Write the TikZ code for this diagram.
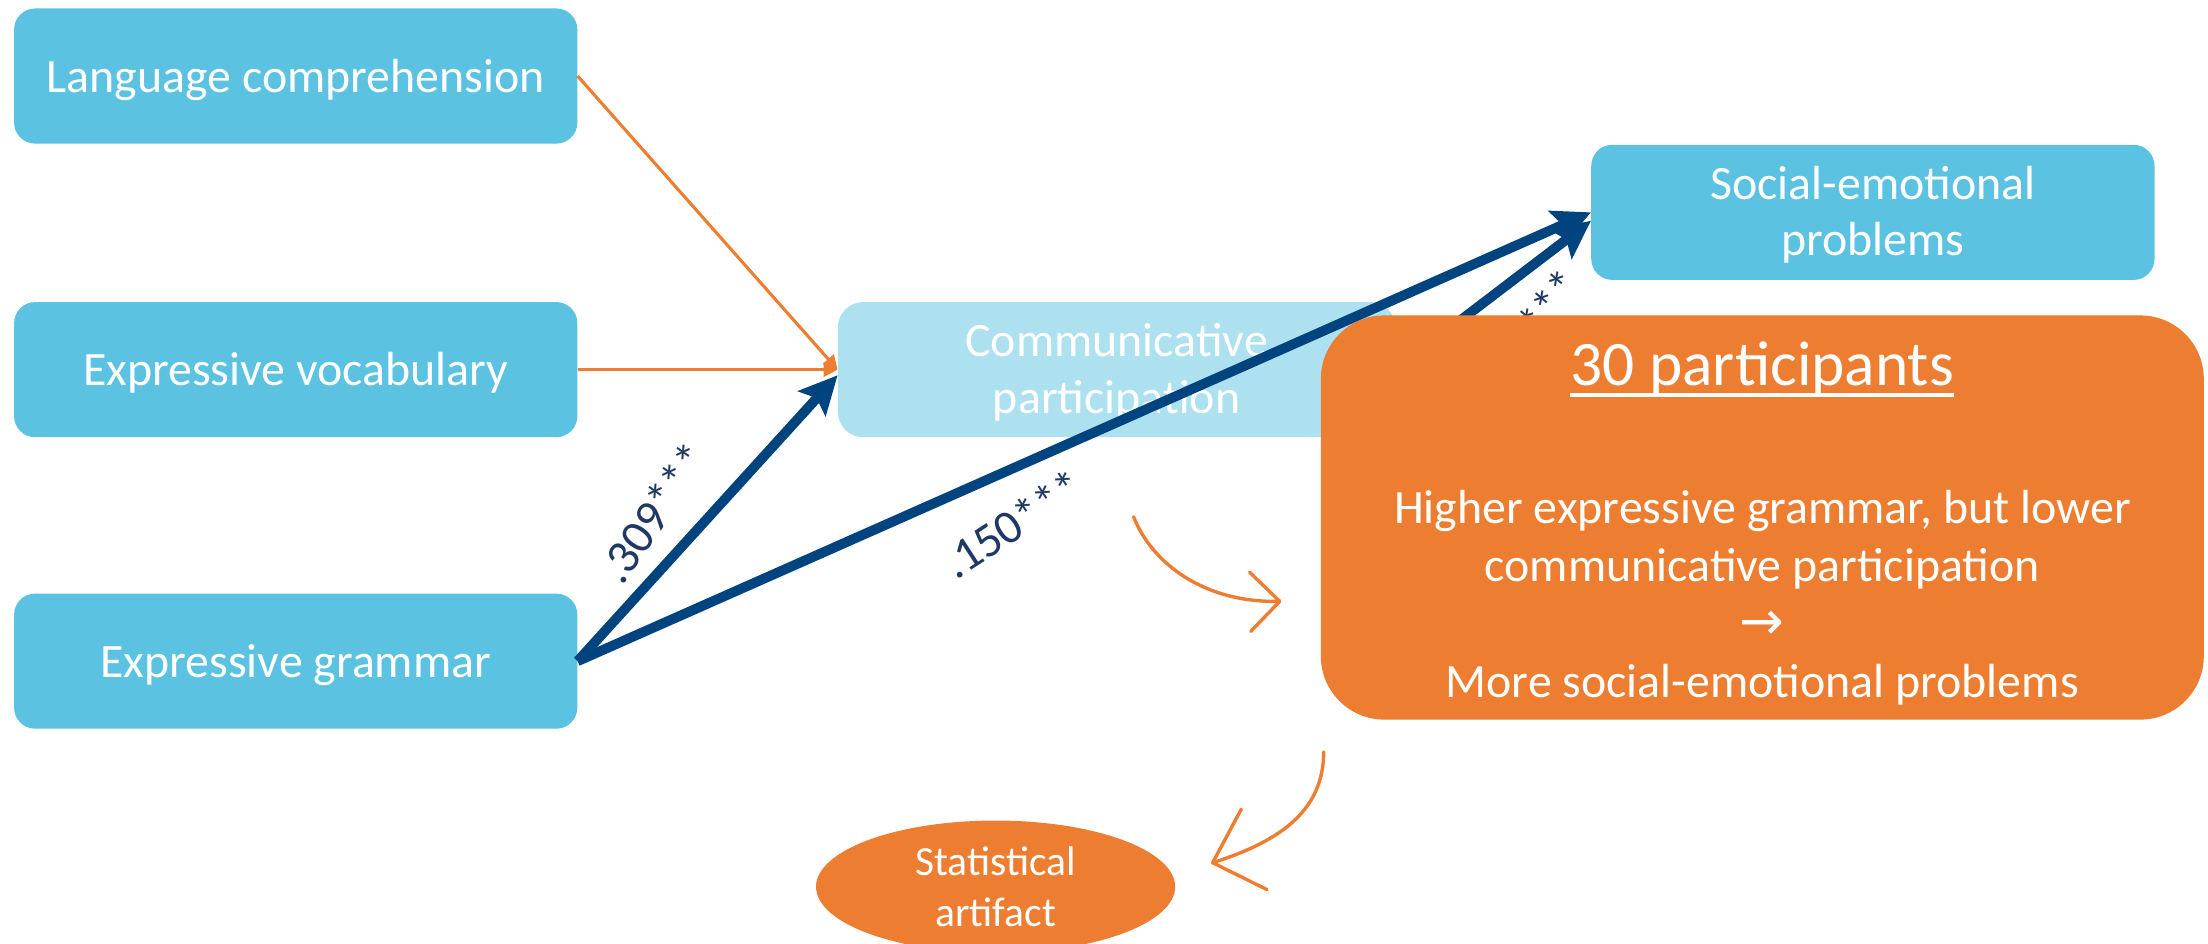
\documentclass[tikz,border=0pt]{standalone}
\usepackage{fontspec}
\setmainfont{Carlito}
\newfontfamily\arrowfont{DejaVu Sans}
\usetikzlibrary{arrows.meta,shapes.geometric}
\definecolor{boxblue}{HTML}{5BC2E1}
\definecolor{lightblue}{HTML}{ADE1EF}
\definecolor{orangeA}{HTML}{ED7D31}
\definecolor{navyarrow}{HTML}{00447F}
\definecolor{navytext}{HTML}{1F3864}
\begin{document}
\begin{tikzpicture}[x=1pt,y=-1pt,
  box/.style={rounded corners=15pt, minimum width=400pt, minimum height=96pt, inner sep=0pt, text=white, font=\fontsize{34}{40}\selectfont, align=center},
  oneline/.style={text height=23pt, text depth=0pt},
  twoline/.style={text height=61.6pt, text depth=0pt},
  thinarrow/.style={draw=orangeA, line width=2.2pt, -{Triangle[length=10pt,width=10pt]}},
  thickarrow/.style={draw=navyarrow, line width=7pt, -{Stealth[length=27pt,width=26pt,inset=5pt]}},
  coef/.style={text=navytext, font=\fontsize{34}{40}\selectfont, inner sep=0pt},
  curvy/.style={draw=orangeA, line width=2.4pt, line cap=round},
  whitetext/.style={text=white, inner sep=0pt},
]
\useasboundingbox (0,0) rectangle (1568,670);
\fill[white] (0,0) rectangle (1568,670);

\node[box, oneline, fill=boxblue] (lc) at (210,54) {Language comprehension};
\node[box, oneline, fill=boxblue] (ev) at (210,262.5) {Expressive vocabulary};
\node[box, oneline, fill=boxblue] (eg) at (210,469.5) {Expressive grammar};
\node[box, twoline, fill=lightblue, minimum width=396pt, rounded corners=18pt] (cp) at (793,262.5) {Communicative\\participation};
\node[box, twoline, fill=boxblue] (se) at (1330,150.8) {Social-emotional\\problems};

\draw[thinarrow] (lc.east) -- (cp.west);
\draw[thinarrow] (ev.east) -- (cp.west);
\draw[thickarrow] (eg.east) -- ([yshift=-4pt]cp.west);
\draw[thickarrow] (eg.east) -- (se.west);
\draw[thickarrow] (cp.east) -- ([yshift=-6pt]se.west);

\node[coef, rotate=55] (l1) at (464,364) {.309***};
\node[coef, rotate=33] (l2) at (719,372) {.150***};
\node[coef, rotate=50] (l3) at (1100,216) {***};

\node[fill=orangeA, rounded corners=45pt, minimum width=627pt, minimum height=287pt, inner sep=0pt] (res) at (1251.5,367.5) {};
\node[whitetext, anchor=base, font=\fontsize{45}{54}\selectfont] (title) at (1251.5,274) {30 participants};
\draw[white, line width=2.7pt] ([yshift=-6.3pt]title.base west) -- ([yshift=-6.3pt]title.base east);
\node[whitetext, anchor=base, align=center, font=\fontsize{34}{41}\selectfont] (body) at (1251.5,495) {Higher expressive grammar, but lower\\communicative participation\\{\arrowfont\fontsize{38}{41}\selectfont →}\\More social-emotional problems};

\node[ellipse, fill=orangeA, minimum width=255pt, minimum height=94pt, inner sep=0pt, text=white, align=center, font=\fontsize{29.5}{36}\selectfont, text height=56.6pt, text depth=0pt] (sa) at (707,629.7) {Statistical\\artifact};

\coordinate (c1s) at (805,367);
\coordinate (c1e) at (910,427);
\draw[curvy, -{Straight Barb[length=21pt,width=42pt,round]}] (c1s) .. controls (818,400) and (855,428) .. (c1e);
\coordinate (c2s) at (940,534);
\coordinate (c2e) at (860,613);
\draw[curvy, -{Straight Barb[length=31pt,width=60pt,round]}] (c2s) .. controls (940,575) and (910,597) .. (c2e);
\end{tikzpicture}
\end{document}
